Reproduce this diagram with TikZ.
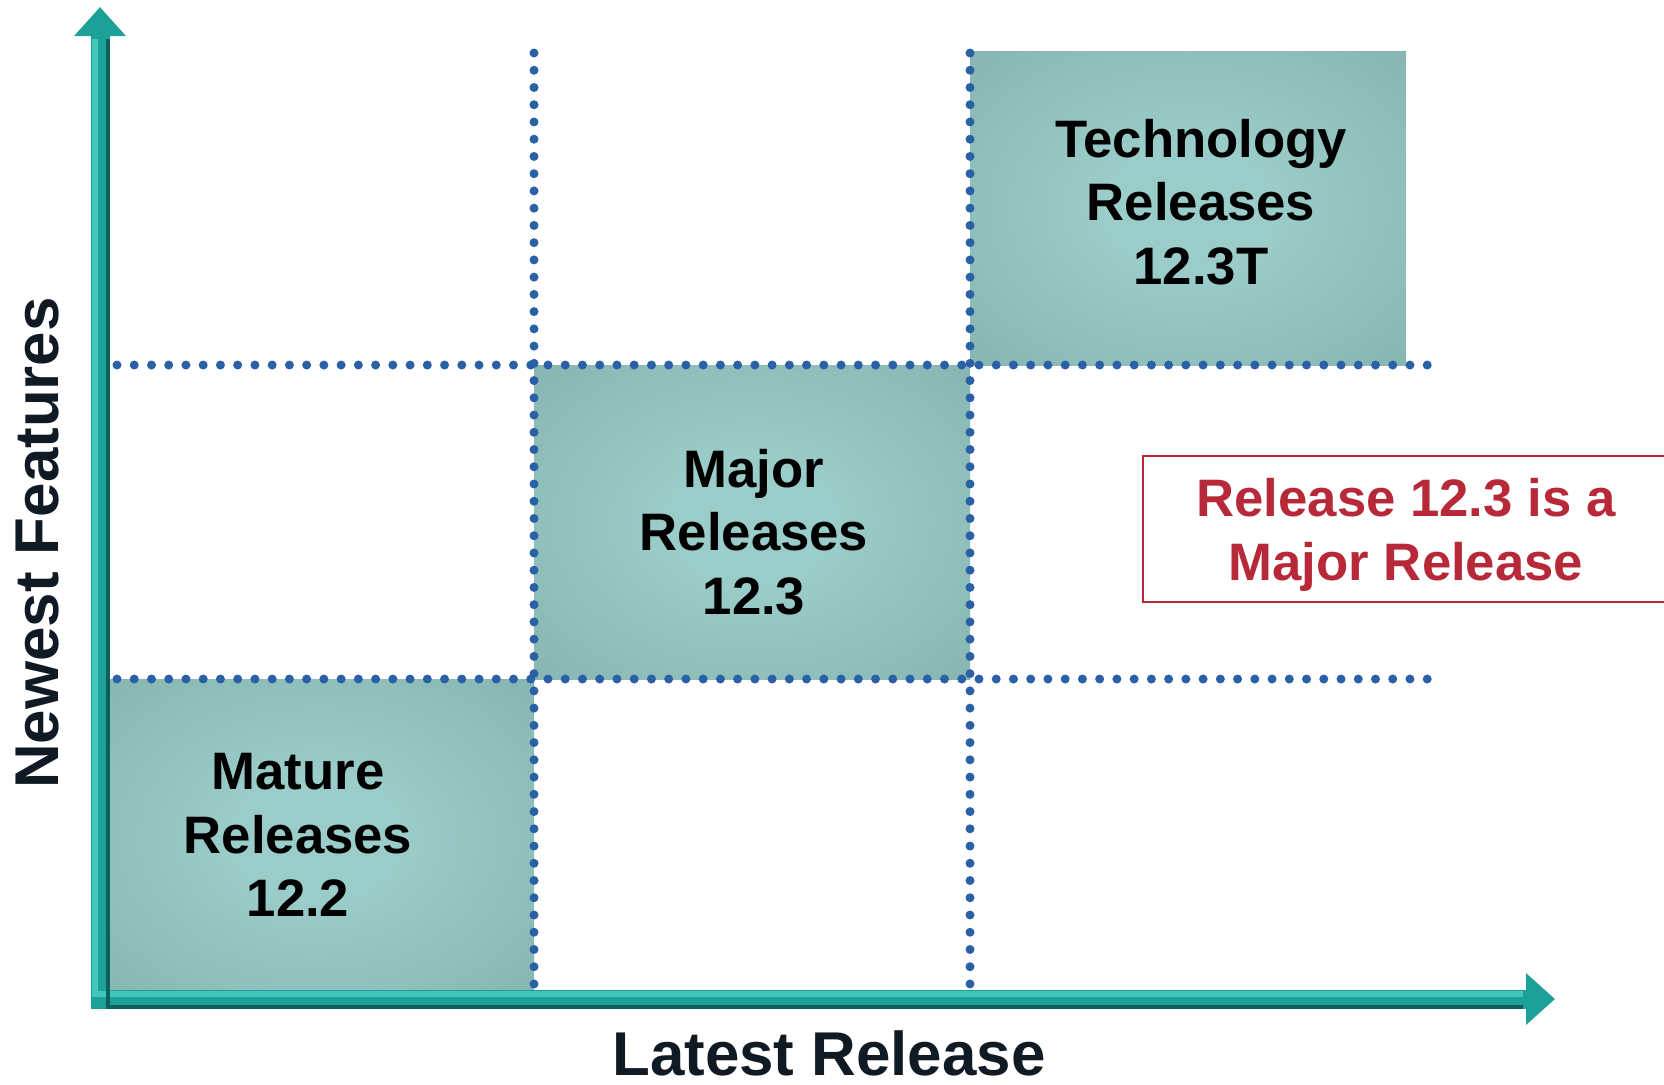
\documentclass[tikz,border=0pt]{standalone}
\usepackage{fontspec}
\setmainfont{Liberation Sans}
\usetikzlibrary{arrows.meta,positioning}
\definecolor{tealbox}{RGB}{128,172,168}
\definecolor{tealglow}{RGB}{154,204,201}
\definecolor{gridblue}{RGB}{42,96,166}
\definecolor{axismid}{RGB}{28,160,151}
\definecolor{axislight}{RGB}{66,198,188}
\definecolor{axisdark}{RGB}{12,96,92}
\definecolor{relred}{RGB}{183,41,57}
\definecolor{labelink}{RGB}{16,26,36}
\pgfdeclareradialshading{boxglow}{\pgfpoint{0bp}{0bp}}{color(0bp)=(tealglow); color(10bp)=(tealglow); color(46bp)=(tealbox); color(80bp)=(tealbox)}

\begin{document}
\begin{tikzpicture}
[
    relbox/.style={rectangle, inner sep=0pt, outer sep=0pt, shading=boxglow},
    boxtext/.style={align=center, inner sep=0pt, font=\fontsize{15}{18.1}\selectfont\bfseries},
    dotgrid/.style={gridblue, line width=0.09cm, line cap=round, dash pattern=on 0pt off 0.1724cm},
    axis/.style={axismid, line width=0.19cm, line join=miter,
        {Triangle[width=0.50cm, length=0.29cm]}-{Triangle[width=0.50cm, length=0.29cm]}},
    axislabel/.style={inner sep=0pt, text=labelink, font=\fontsize{17.6}{20}\selectfont\bfseries},
]
\useasboundingbox (0,0) rectangle (16.64,-10.84);

% release boxes
\node [relbox, minimum width=4.34cm, minimum height=3.18cm] (mature box) at (3.17,-8.38) {};
\node [relbox, minimum width=4.36cm, minimum height=3.14cm, above right=0pt and 0pt of mature box] (major box) {};
\node [relbox, minimum width=4.36cm, minimum height=3.14cm, above right=0pt and 0pt of major box] (tech box) {};

% dotted grid
\foreach \yy in {-3.65,-6.79}
    \draw [dotgrid] (1.17,\yy) -- (14.29,\yy);
\foreach \xx in {5.34,9.70}
    \draw [dotgrid] (\xx,-0.53) -- (\xx,-9.86);

% axes
\coordinate (origin) at (1.00,-9.99);
\coordinate (xtip) at (15.55,-9.99);
\coordinate (ytip) at (1.00,-0.07);
\draw [axis] (xtip) -- (origin) -- (ytip);
\draw [axislight, line width=0.06cm] ([xshift=-0.32cm, yshift=0.05cm]xtip) -- ([xshift=-0.05cm, yshift=0.05cm]origin) -- ([xshift=-0.05cm, yshift=-0.32cm]ytip);
\draw [axisdark, line width=0.04cm] ([xshift=-0.32cm, yshift=-0.075cm]xtip) -- ([xshift=0.075cm, yshift=-0.075cm]origin) -- ([xshift=0.075cm, yshift=-0.32cm]ytip);

% box texts
\node [boxtext] (mature) at ([xshift=-0.19cm, yshift=0.03cm]mature box.center) {Mature\\Releases\\12.2};
\node [boxtext] (major) at ([xshift=0.02cm, yshift=-0.10cm]major box.center) {Major\\Releases\\12.3};
\node [boxtext] (tech) at ([xshift=0.13cm, yshift=0.06cm]tech box.center) {Technology\\Releases\\12.3T};

% note
\node [draw=relred, line width=0.02cm, minimum width=5.26cm, minimum height=1.46cm, inner sep=0pt] (note box) at (14.06,-5.29) {};
\node [boxtext, text=relred] (note) at ([yshift=-0.06cm]note box.center) {Release 12.3 is a\\Major Release};

% axis labels
\node [axislabel] (latest) at (8.29,-10.53) {Latest Release};
\node [axislabel, rotate=90] (newest) at (0.38,-5.43) {Newest Features};
\end{tikzpicture}
\end{document}
